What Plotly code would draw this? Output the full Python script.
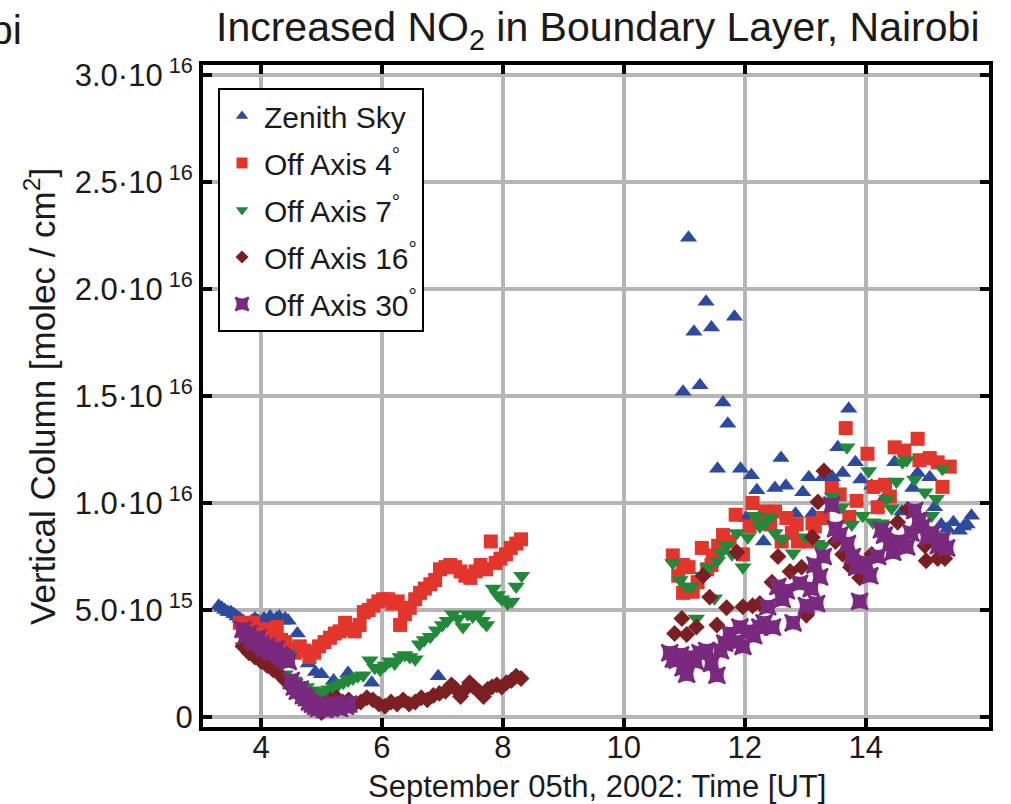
import plotly.graph_objects as go

# ---------------- data (x: hours UT, y: 1e15 molec/cm^2) ----------------
zen_x = [3.30,3.35,3.40,3.45,3.50,3.55,3.60,3.65,3.70,3.75,3.80,3.85,3.90,3.95,4.00,4.05,4.10,4.15,4.20,4.25,4.30,4.35,4.40,4.45,
         4.60,4.78,4.90,5.00,5.20,5.44,5.83,6.93,
         10.98,11.07,11.16,11.26,11.36,11.45,11.55,11.64,11.72,11.83,11.93,12.02,12.11,12.20,12.31,12.50,12.60,12.68,12.84,12.96,
         13.06,13.12,13.29,13.45,13.54,13.62,13.72,13.83,13.92,14.10,14.30,14.48,14.60,14.78,14.86,15.06,15.14,15.25,15.35,15.45,
         15.55,15.62,15.68,15.75]
zen_y = [5.2,5.1,5.0,4.9,4.9,4.8,4.7,4.6,4.5,4.4,4.4,4.5,4.6,4.5,4.4,4.6,4.5,4.7,4.4,4.6,4.7,4.5,4.6,4.5,
         3.9,2.5,2.1,2.0,1.7,2.05,1.6,1.9,
         15.2,22.4,18.0,15.5,19.4,18.2,11.6,14.7,13.7,18.7,11.6,9.3,11.3,10.6,8.2,10.7,12.1,10.8,9.5,10.5,
         11.2,9.5,11.2,11.2,12.6,11.4,14.4,11.9,11.1,10.8,10.2,11.9,9.6,10.7,11.4,11.2,9.8,9.0,8.8,9.1,
         8.7,8.9,9.0,9.4]

oa4_x = [3.65,3.72,3.80,3.87,3.95,4.03,4.10,4.18,4.26,4.33,4.40,4.48,4.56,4.64,4.72,4.80,4.88,4.96,5.05,5.14,5.22,5.30,5.39,
         5.47,5.55,5.63,5.70,5.78,5.86,5.94,6.02,6.10,6.18,6.26,6.30,6.38,6.46,6.55,6.63,6.71,6.80,6.88,6.96,7.05,7.13,7.21,
         7.30,7.38,7.46,7.55,7.63,7.72,7.80,7.88,7.96,8.05,8.13,8.22,8.30,
         10.81,10.90,10.98,10.98,11.07,11.14,11.22,11.29,11.38,11.45,11.47,11.56,11.64,11.75,11.85,11.97,12.08,12.13,12.20,
         12.33,12.42,12.50,12.61,12.69,12.78,12.86,12.88,13.04,13.12,13.16,13.29,13.44,13.57,13.67,13.73,13.85,14.03,14.13,
         14.20,14.32,14.40,14.48,14.64,14.86,14.89,15.06,15.19,15.27,15.39]
oa4_y = [4.4,4.0,4.2,4.4,4.0,4.1,3.8,4.0,4.2,3.6,3.5,3.2,3.0,3.3,3.1,2.8,3.0,3.3,3.5,3.7,3.9,4.0,4.4,
         4.1,4.0,4.3,4.9,5.0,5.2,5.4,5.5,5.5,5.3,5.4,4.3,4.8,5.1,5.5,5.8,6.0,6.2,6.4,6.9,7.0,7.1,7.0,
         6.8,6.6,6.5,6.8,7.1,6.9,8.2,7.2,7.4,7.6,7.9,8.1,8.3,
         7.55,6.6,7.1,5.8,7.0,5.85,6.3,7.9,6.9,7.1,7.55,8.0,8.5,8.2,9.45,7.6,8.9,10.0,9.2,
         9.6,9.0,9.6,8.2,9.3,8.6,9.0,8.2,8.2,9.05,8.9,9.3,10.7,10.4,13.5,9.35,10.1,12.3,10.75,
         9.8,10.85,10.3,12.6,12.45,13.0,12.0,12.1,11.9,10.75,11.7]

oa7_x = [3.70,3.80,3.90,4.00,4.10,4.20,4.30,4.40,4.45,4.55,4.65,4.75,4.86,4.95,5.03,5.12,5.20,5.28,5.36,5.44,5.52,5.60,5.69,
         5.80,5.88,5.97,6.05,6.13,6.21,6.30,6.38,6.46,6.55,6.62,6.70,6.80,6.90,7.00,7.08,7.17,7.26,7.34,7.42,7.50,7.59,7.66,
         7.73,7.84,7.91,7.98,8.08,8.15,8.22,8.31,
         10.81,10.93,11.04,11.12,11.20,11.30,11.39,11.50,11.55,11.62,11.70,11.79,11.87,11.97,12.05,12.17,12.25,12.33,12.42,
         12.50,12.62,12.80,13.00,13.20,13.29,13.45,13.60,13.69,13.77,13.95,14.05,14.12,14.26,14.35,14.43,14.51,14.61,14.68,
         14.81,14.98,15.09,15.17,15.27]
oa7_y = [3.3,3.1,2.9,2.8,2.6,2.5,2.3,2.0,3.0,1.7,1.5,1.4,1.25,1.2,1.1,1.3,1.4,1.5,1.6,1.7,1.8,1.9,1.95,
         2.65,2.3,2.2,2.4,2.6,2.5,2.8,2.9,2.8,2.7,3.4,3.6,3.75,4.05,4.3,4.5,4.8,4.6,4.2,4.8,4.7,4.8,4.5,
         4.3,6.0,5.7,5.5,5.3,5.4,6.1,6.6,
         7.2,6.4,6.1,6.1,4.6,6.6,7.0,5.55,7.3,7.7,8.0,7.6,8.6,7.0,8.4,9.4,8.9,9.1,9.3,
         8.6,8.3,7.65,8.4,8.1,8.0,10.3,9.8,12.6,9.0,9.4,11.5,9.1,9.05,10.2,9.75,11.0,11.9,12.0,
         11.1,10.5,9.4,10.2,11.6]

oa16_x = [3.70,3.80,3.90,4.00,4.10,4.20,4.30,4.40,4.50,4.60,4.70,4.80,4.90,5.00,5.05,5.15,5.25,5.35,5.45,5.55,5.65,5.75,5.85,
          5.95,6.05,6.15,6.25,6.35,6.45,6.55,6.65,6.75,6.85,6.95,7.05,7.15,7.22,7.30,7.38,7.45,7.52,7.60,7.68,7.75,7.82,7.90,
          7.98,8.06,8.14,8.22,8.30,
          10.84,10.96,11.04,11.20,11.31,11.42,11.54,11.70,11.87,11.97,12.13,12.25,12.45,12.55,12.75,12.94,13.02,13.12,13.21,
          13.31,13.50,13.62,13.75,13.90,14.10,14.30,14.53,14.70,14.98,15.00,15.19,15.31]
oa16_y = [3.3,3.0,2.8,2.6,2.4,2.2,2.0,1.7,1.4,1.1,0.8,0.6,0.4,0.2,0.6,0.8,0.9,0.7,0.8,0.6,0.7,0.9,0.8,
          0.6,0.5,0.7,0.6,0.8,0.6,0.7,0.9,0.8,1.0,1.1,1.2,1.5,1.3,0.95,1.3,1.6,1.4,1.2,0.95,1.3,1.4,1.5,
          1.4,1.6,1.7,1.9,1.8,
          3.9,4.6,3.85,4.2,6.6,5.6,4.3,5.1,7.7,5.15,5.2,5.3,6.3,7.5,6.8,7.0,4.75,8.4,10.05,
          11.5,8.2,7.6,7.0,6.5,7.6,8.5,9.1,9.7,8.0,7.3,7.4,7.4]

oa30_x = [3.70,3.75,3.80,3.85,3.90,3.95,4.00,4.05,4.10,4.15,4.20,4.25,4.30,4.35,4.40,4.45,4.50,4.55,4.60,4.65,4.70,4.75,4.80,
          4.85,4.90,4.95,5.00,5.05,5.10,5.15,5.20,5.25,5.30,5.35,5.40,5.45,
          10.76,10.82,10.88,10.94,10.98,11.04,11.10,11.18,11.26,11.37,11.45,11.54,11.60,11.67,11.75,11.85,11.92,11.97,12.08,
          12.15,12.25,12.32,12.38,12.46,12.55,12.62,12.69,12.80,12.91,13.02,13.10,13.16,13.19,13.24,13.30,13.44,13.50,13.57,
          13.70,13.78,13.85,13.90,14.00,14.07,14.20,14.26,14.31,14.40,14.45,14.55,14.68,14.75,14.81,14.88,14.94,15.02,15.10,
          15.20,15.27,15.34]
oa30_y = [4.1,3.8,3.9,3.6,3.5,3.7,3.4,3.2,3.3,3.1,3.0,3.2,2.9,2.8,2.7,2.6,1.7,1.4,1.2,1.3,1.0,0.9,0.7,
          0.6,0.5,0.4,0.5,0.35,0.5,0.4,0.6,0.5,0.4,0.6,0.5,0.6,
          3.0,2.7,2.65,2.9,2.3,2.0,2.8,2.6,3.0,3.1,2.5,1.95,3.1,3.45,3.9,3.5,4.2,3.3,4.0,
          3.8,4.2,4.4,5.15,4.2,6.1,5.5,5.9,4.4,6.25,5.2,6.0,7.1,5.3,6.55,7.5,9.9,8.8,8.5,
          8.1,7.5,7.0,5.4,7.2,6.6,7.5,8.75,8.5,8.1,7.7,8.2,7.95,8.6,9.65,9.2,8.9,8.4,8.6,
          8.0,8.3,7.9]

series_names = ["Zenith Sky", "Off Axis 4<sup>°</sup>", "Off Axis 7<sup>°</sup>",
                "Off Axis 16<sup>°</sup>", "Off Axis 30<sup>°</sup>"]
y_tick_vals = [0, 5e15, 1e16, 1.5e16, 2e16, 2.5e16, 3e16]
y_tick_text = ["0", "5.0·10<sup> 15</sup>", "1.0·10<sup> 16</sup>", "1.5·10<sup> 16</sup>",
               "2.0·10<sup> 16</sup>", "2.5·10<sup> 16</sup>", "3.0·10<sup> 16</sup>"]
x_tick_vals = [4, 6, 8, 10, 12, 14]

SCALE = 1e15
FONT = "Liberation Sans, Arial, sans-serif"
TXT = "#1a1a1a"

styles = [
    dict(symbol="triangle-up", color="#2d4a9e", size=15, lsize=11, lw=0),
    dict(symbol="square", color="#e2352c", size=14, lsize=11, lw=0),
    dict(symbol="triangle-down", color="#22893a", size=15, lsize=11, lw=0),
    dict(symbol="diamond", color="#7b1f22", size=13, lsize=10, lw=0),
    dict(symbol="star-square", color="#7a2a7e", size=15, lsize=12, lw=2),
]
data = [(zen_x, zen_y), (oa4_x, oa4_y), (oa7_x, oa7_y), (oa16_x, oa16_y), (oa30_x, oa30_y)]

fig = go.Figure()
for i in range(5):
    xs, ys = data[i]
    st = styles[i]
    fig.add_trace(go.Scatter(
        x=xs, y=[v * SCALE for v in ys], mode="markers", showlegend=False,
        marker=dict(symbol=st["symbol"], color=st["color"], size=st["size"],
                    line=dict(width=st["lw"], color=st["color"])),
    ))
# legend-only entries
for i in range(5):
    st = styles[i]
    fig.add_trace(go.Scatter(
        x=[None], y=[None], mode="markers", name=series_names[i], legendgroup=str(i),
        marker=dict(symbol=st["symbol"], color=st["color"], size=st["lsize"],
                    line=dict(width=st["lw"], color=st["color"])),
    ))

axis_common = dict(
    showline=True, linecolor="black", linewidth=4, mirror="ticks",
    ticks="inside", ticklen=9, tickwidth=4, tickcolor="black",
    showgrid=True, gridcolor="#b5b5b5", gridwidth=4, zeroline=False,
    tickfont=dict(family=FONT, size=31, color=TXT),
)

fig.update_layout(
    width=1011, height=804,
    margin=dict(l=203, r=22, t=65, b=77),
    paper_bgcolor="white", plot_bgcolor="white",
    font=dict(family=FONT, color=TXT),
    xaxis=dict(range=[3.04, 16.04], tickvals=x_tick_vals, ticklabelstandoff=-10, **axis_common),
    yaxis=dict(range=[-0.047e16, 3.047e16], tickvals=y_tick_vals, ticktext=y_tick_text, **axis_common),
    legend=dict(
        x=(218 - 203) / 786, y=1 - (88 - 65) / 662, xanchor="left", yanchor="top",
        bgcolor="white", bordercolor="black", borderwidth=2,
        font=dict(family=FONT, size=30, color=TXT),
        tracegroupgap=5, itemwidth=34,
    ),
    annotations=[
        dict(text="Increased NO<sub>2</sub> in Boundary Layer, Nairobi", xref="paper", yref="paper",
             x=(597 - 203) / 786, y=1 + (65 - 30) / 662, xanchor="center", yanchor="middle",
             showarrow=False, font=dict(family=FONT, size=41, color=TXT)),
        dict(text="Nairobi", xref="paper", yref="paper",
             x=(24 - 203) / 786, y=1 + (65 - 30) / 662, xanchor="right", yanchor="middle",
             showarrow=False, font=dict(family=FONT, size=41, color=TXT)),
        dict(text="Vertical Column [molec / cm<sup>2</sup>]", xref="paper", yref="paper",
             x=(40 - 203) / 786, y=1 - (397 - 65) / 662, xanchor="center", yanchor="middle",
             textangle=-90, showarrow=False, font=dict(family=FONT, size=35, color=TXT)),
        dict(text="September 05th, 2002: Time [UT]", xref="paper", yref="paper",
             x=(597 - 203) / 786, y=-(786 - 727) / 662, xanchor="center", yanchor="middle",
             showarrow=False, font=dict(family=FONT, size=31, color=TXT)),
    ],
)

fig.write_html("out.html")
